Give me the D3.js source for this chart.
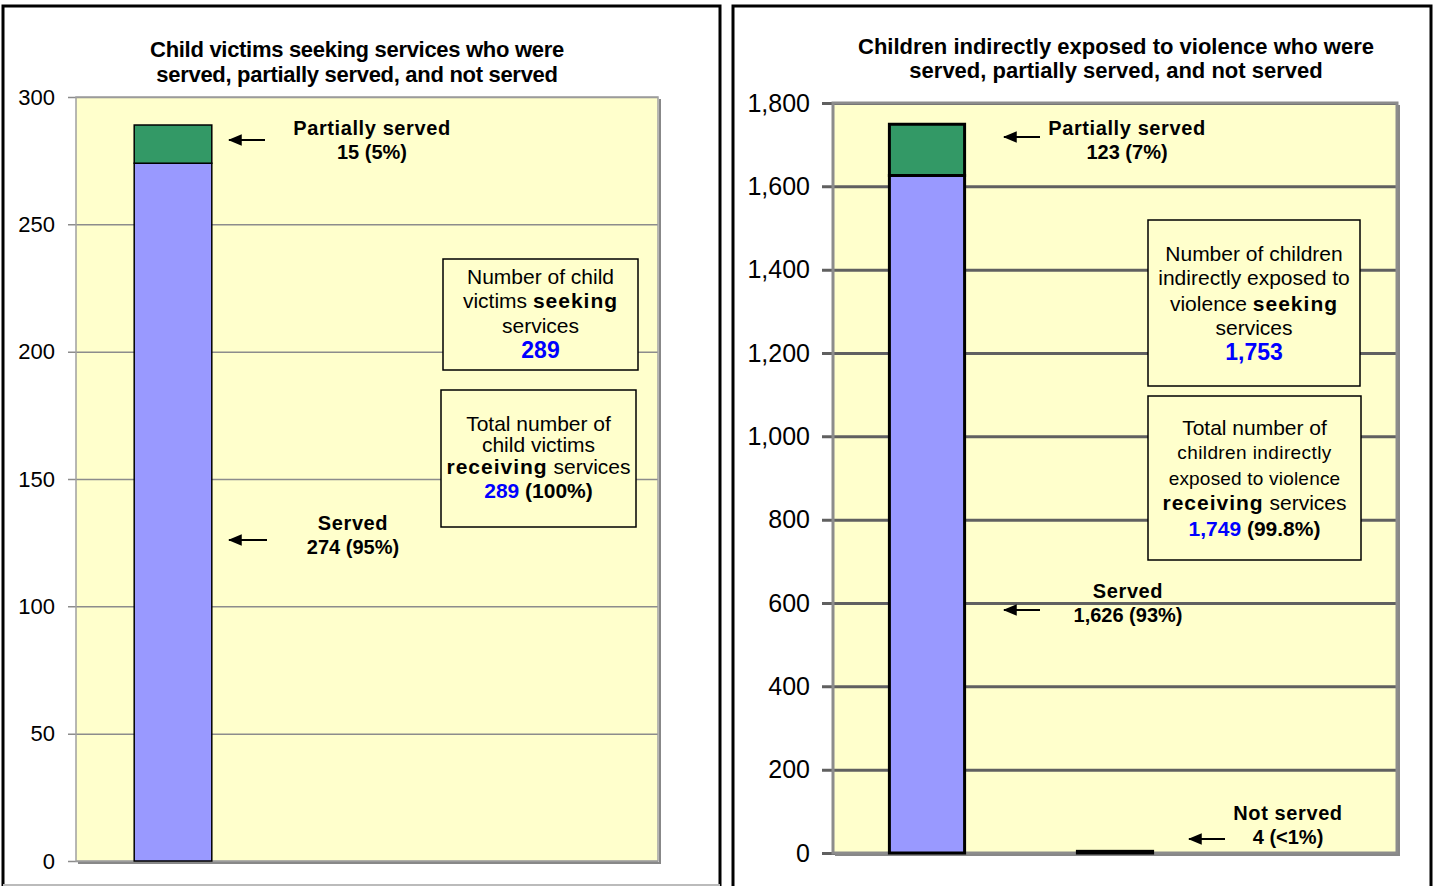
<!DOCTYPE html>
<html>
<head>
<meta charset="utf-8">
<script src="https://cdn.jsdelivr.net/npm/d3@7"></script>
<style>
  body { margin: 0; background: #fff; }
  svg { display: block; font-family: "Liberation Sans", Arial, sans-serif; }
</style>
</head>
<body>
<div id="chart"></div>
<script>
// Data
const categories = ["Served / partially served", "Not served", "Other"];

// Left chart: child victims
const victimsServed    = [274, 0, 0];
const victimsPartial   = [15, 0, 0];
const victimsNotServed = [0, 0, 0];
const victimsTicks     = [0, 50, 100, 150, 200, 250, 300];

// Right chart: children indirectly exposed to violence
const exposedServed    = [1626, 0, 0];
const exposedPartial   = [123, 0, 0];
const exposedNotServed = [0, 4, 0];
const exposedTicks     = [0, 200, 400, 600, 800, 1000, 1200, 1400, 1600, 1800];

const W = 1437, H = 886;

const svg = d3.select("#chart")
  .append("svg")
  .attr("width", W)
  .attr("height", H);

// arrow head marker (tip at the line end)
svg.append("defs").append("marker")
  .attr("id", "arrowHead")
  .attr("viewBox", "0 0 12 10")
  .attr("refX", 11).attr("refY", 5)
  .attr("markerWidth", 7).attr("markerHeight", 5.8)
  .attr("markerUnits", "strokeWidth")
  .attr("orient", "auto")
  .append("path")
  .attr("d", "M0,0 L12,5 L0,10 Z")
  .attr("fill", "#000");

// draws a block of centered lines, each line made of segments
function textBlock(g, cx, ys, lines, size) {
  lines.forEach((segs, i) => {
    const t = g.append("text")
      .attr("x", cx).attr("y", ys[i])
      .attr("dy", "0.35em")
      .attr("text-anchor", "middle")
      .style("font-size", size + "px");
    segs.forEach(s => {
      t.append("tspan")
        .text(s.t)
        .style("font-weight", s.b ? "bold" : "normal")
        .style("fill", s.c || "#000")
        .style("font-size", (s.s || size) + "px")
        .style("letter-spacing", s.ls || null);
    });
  });
}

function arrow(g, x1, x2, y) {
  g.append("line")
    .attr("x1", x1).attr("x2", x2 + 1)
    .attr("y1", y).attr("y2", y)
    .attr("stroke", "#000").attr("stroke-width", 2)
    .attr("marker-end", "url(#arrowHead)");
}

function drawPanel(p) {
  const g = svg.append("g");
  const pw = p.right - p.left;

  // Scales
  const x = d3.scaleBand()
    .domain(categories)
    .range([p.left, p.right])
    .paddingInner(0.6)
    .paddingOuter(0.3);

  const y = d3.scaleLinear()
    .domain([0, d3.max(p.ticks)])
    .range([p.bottom, p.top]);

  // plot background
  g.append("rect")
    .attr("x", p.left).attr("y", p.top)
    .attr("width", pw).attr("height", p.bottom - p.top)
    .attr("fill", "#ffffcc");

  // gridlines + tick marks
  const yAxis = d3.axisLeft(y)
    .tickValues(p.ticks)
    .tickFormat(d3.format(","));

  const ax = g.append("g")
    .attr("transform", `translate(${p.right},0)`)
    .call(yAxis);
  ax.select(".domain").remove();
  ax.selectAll(".tick line")
    .attr("x1", 0)
    .attr("x2", -pw - p.tickOut)
    .attr("stroke", p.gridColor)
    .attr("stroke-width", p.gridWidth);
  ax.selectAll(".tick text")
    .attr("x", -pw - p.labelGap)
    .style("font-family", "Liberation Sans, Arial, sans-serif")
    .style("font-size", p.tickSize + "px")
    .attr("fill", "#000");

  // plot frame, with a darker shadow on the right and bottom
  g.append("rect")
    .attr("x", p.left).attr("y", p.top)
    .attr("width", pw).attr("height", p.bottom - p.top)
    .attr("fill", "none")
    .attr("stroke", p.frameColor)
    .attr("stroke-width", p.frameWidth);
  g.append("path")
    .attr("d", `M${p.right + 2},${p.top + 2} V${p.bottom + 2} H${p.left + 2}`)
    .attr("fill", "none")
    .attr("stroke", "#888")
    .attr("stroke-width", 2);

  // stack the three series
  const rows = categories.map((c, i) => ({
    cat: c, served: p.served[i], partial: p.partial[i], notServed: p.notServed[i]
  }));
  const stack = d3.stack().keys(["served", "partial", "notServed"])(rows);
  const colors = { served: "#9999ff", partial: "#339966", notServed: "#000000" };

  stack.forEach(layer => {
    g.selectAll(null)
      .data(layer.filter(d => d[1] - d[0] > 0))
      .enter().append("rect")
      .attr("x", d => x(d.data.cat))
      .attr("width", x.bandwidth())
      .attr("y", d => y(d[1]))
      .attr("height", d => y(d[0]) - y(d[1]))
      .attr("fill", colors[layer.key])
      .attr("stroke", "#000")
      .attr("stroke-width", p.barStroke);
  });

  // title
  textBlock(g, p.titleX, p.titleY, p.title.map(t => [{ t: t, b: true, ls: p.titleLs }]), p.titleSize);

  // annotations
  p.notes.forEach(n => {
    arrow(g, n.ax1, n.ax2, n.ay);
    textBlock(g, n.x, [n.y, n.y + 24], [[{ t: n.l1, b: true, ls: "0.6px" }], [{ t: n.l2, b: true }]], 20);
  });

  // boxes
  p.boxes.forEach(b => {
    g.append("rect")
      .attr("x", b.x).attr("y", b.y).attr("width", b.w).attr("height", b.h)
      .attr("fill", "#ffffcc").attr("stroke", "#000").attr("stroke-width", 1.5);
    textBlock(g, b.x + b.w / 2, b.ys, b.lines, 21);
  });
}

// outer panel borders
svg.append("path")
  .attr("d", "M3,886 V6 H720 V886")
  .attr("fill", "none").attr("stroke", "#000").attr("stroke-width", 3);
svg.append("line")
  .attr("x1", 3).attr("x2", 720).attr("y1", 885).attr("y2", 885)
  .attr("stroke", "#bbb").attr("stroke-width", 2);
svg.append("path")
  .attr("d", "M733,886 V6 H1431 V886")
  .attr("fill", "none").attr("stroke", "#000").attr("stroke-width", 3);

drawPanel({
  left: 76, right: 658, top: 97, bottom: 861,
  ticks: victimsTicks, tickOut: 8, labelGap: 21, tickSize: 22,
  gridColor: "#8c8c8c", gridWidth: 1.5,
  frameColor: "#a0a0a0", frameWidth: 1.5, barStroke: 1.5,
  served: victimsServed, partial: victimsPartial, notServed: victimsNotServed,
  title: ["Child victims seeking services who were", "served, partially served, and not served"],
  titleX: 357, titleY: [49, 74], titleSize: 22, titleLs: "-0.3px",
  notes: [
    { l1: "Partially served", l2: "15 (5%)", x: 372, y: 128, ax1: 265, ax2: 228, ay: 140 },
    { l1: "Served", l2: "274 (95%)", x: 353, y: 523, ax1: 267, ax2: 228, ay: 540 }
  ],
  boxes: [
    { x: 443, y: 259, w: 195, h: 111, ys: [277, 301, 326, 351],
      lines: [[{ t: "Number of child" }],
              [{ t: "victims " }, { t: "seeking", b: true, ls: "1px" }],
              [{ t: "services" }],
              [{ t: "289", b: true, c: "#0000ff", s: 23 }]] },
    { x: 441, y: 390, w: 195, h: 137, ys: [424, 445, 467, 491],
      lines: [[{ t: "Total number of" }],
              [{ t: "child victims" }],
              [{ t: "receiving", b: true, ls: "1px" }, { t: " services" }],
              [{ t: "289", b: true, c: "#0000ff" }, { t: " (100%)", b: true }]] }
  ]
});

drawPanel({
  left: 833, right: 1397, top: 103, bottom: 853,
  ticks: exposedTicks, tickOut: 11, labelGap: 23, tickSize: 25,
  gridColor: "#606060", gridWidth: 3,
  frameColor: "#8c8c8c", frameWidth: 3, barStroke: 3,
  served: exposedServed, partial: exposedPartial, notServed: exposedNotServed,
  title: ["Children  indirectly exposed to violence who were", "served, partially served, and not served"],
  titleX: 1116, titleY: [46, 70], titleSize: 22, titleLs: "0px",
  notes: [
    { l1: "Partially served", l2: "123 (7%)", x: 1127, y: 128, ax1: 1040, ax2: 1003, ay: 137 },
    { l1: "Served", l2: "1,626 (93%)", x: 1128, y: 591, ax1: 1040, ax2: 1003, ay: 610 },
    { l1: "Not served", l2: "4 (<1%)", x: 1288, y: 813, ax1: 1225, ax2: 1188, ay: 839 }
  ],
  boxes: [
    { x: 1148, y: 220, w: 212, h: 166, ys: [254, 278, 304, 328, 353],
      lines: [[{ t: "Number of children" }],
              [{ t: "indirectly exposed to" }],
              [{ t: "violence " }, { t: "seeking", b: true, ls: "1px" }],
              [{ t: "services" }],
              [{ t: "1,753", b: true, c: "#0000ff", s: 23 }]] },
    { x: 1148, y: 396, w: 213, h: 164, ys: [428, 452, 478, 503, 529],
      lines: [[{ t: "Total number of" }],
              [{ t: "children indirectly", s: 19, ls: "0.4px" }],
              [{ t: "exposed to violence", s: 19, ls: "0.2px" }],
              [{ t: "receiving", b: true, ls: "1px" }, { t: " services" }],
              [{ t: "1,749", b: true, c: "#0000ff" }, { t: " (99.8%)", b: true }]] }
  ]
});
</script>
</body>
</html>
